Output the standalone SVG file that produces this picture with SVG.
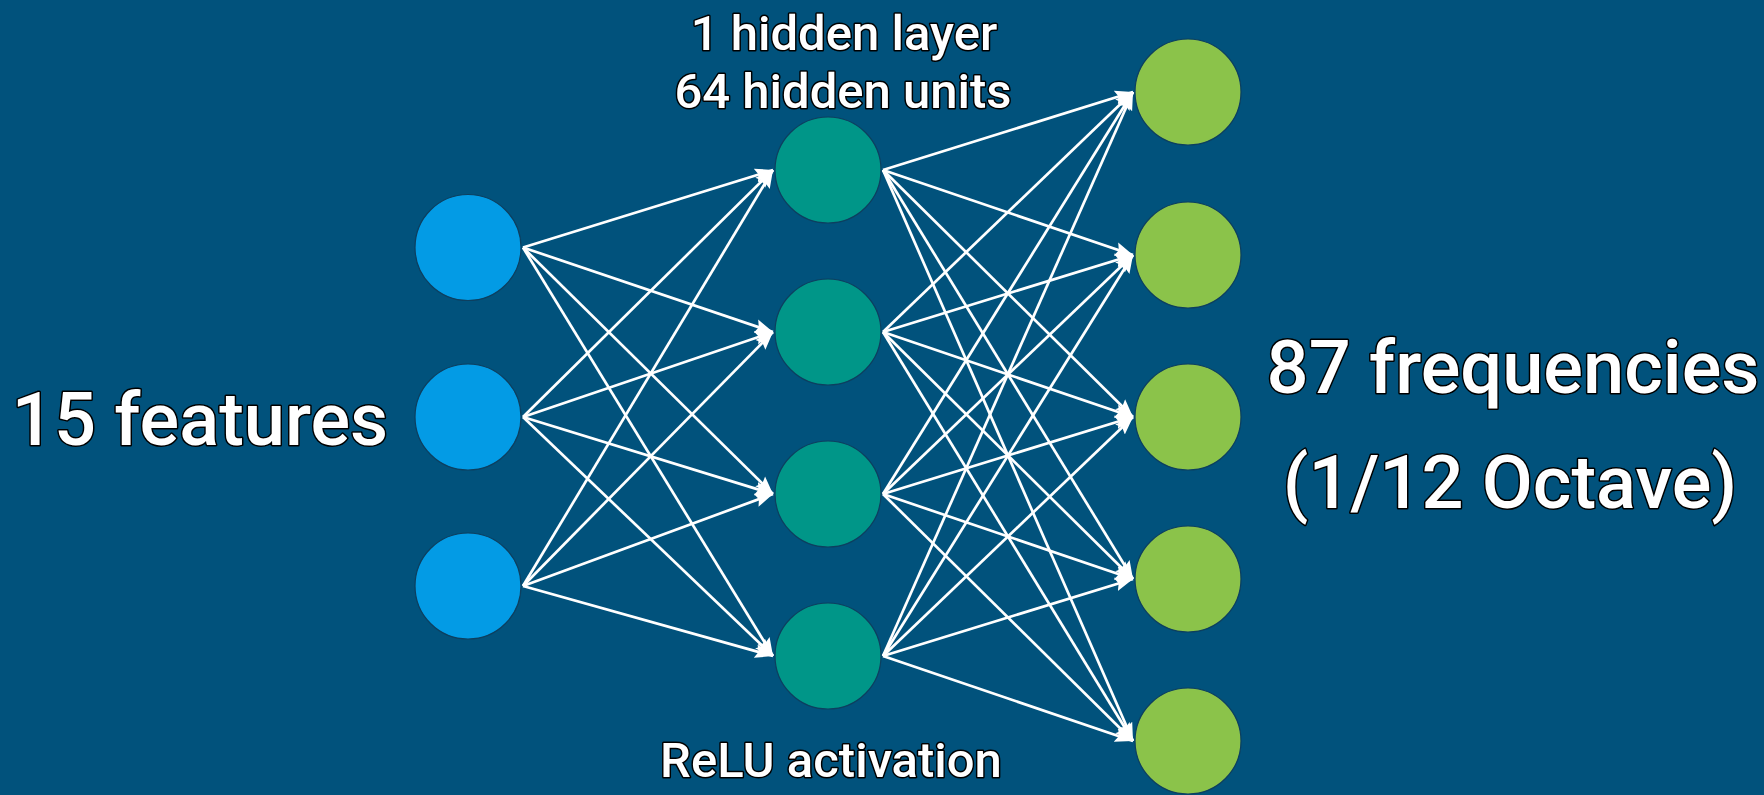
<svg xmlns="http://www.w3.org/2000/svg" width="1764" height="795" viewBox="0 0 1764 795">
<style>
.bg{fill:#01527c}
.in{fill:#039be5;stroke:#0d3f5f;stroke-width:1.2}
.hid{fill:#009688;stroke:#0d3f5f;stroke-width:1.2}
.out{fill:#8bc34a;stroke:#0d3f5f;stroke-width:1.2}
.edge{stroke:#ffffff;stroke-width:2.7;fill:none;marker-end:url(#arr)}
.lbl{font-family:Roboto,"Liberation Sans",sans-serif;font-weight:500;fill:#ffffff;stroke:#000000;stroke-width:3;paint-order:stroke;stroke-linejoin:round;text-anchor:middle}
.big{font-size:74px}
.mid{font-size:49px}
</style>
<defs>
<marker id="arr" markerUnits="userSpaceOnUse" markerWidth="20" markerHeight="16" viewBox="0 0 20 16" refX="18" refY="8" orient="auto">
<path d="M0,1 L18,8 L0,15 L3,8 Z" fill="#ffffff"/>
</marker>
</defs>
<rect class="bg" x="0" y="0" width="1764" height="795"/>
<g id="connectors">
<line class="edge" x1="523" y1="247.5" x2="773" y2="170"/>
<line class="edge" x1="523" y1="247.5" x2="773" y2="332"/>
<line class="edge" x1="523" y1="247.5" x2="773" y2="494"/>
<line class="edge" x1="523" y1="247.5" x2="773" y2="656"/>
<line class="edge" x1="523" y1="417" x2="773" y2="170"/>
<line class="edge" x1="523" y1="417" x2="773" y2="332"/>
<line class="edge" x1="523" y1="417" x2="773" y2="494"/>
<line class="edge" x1="523" y1="417" x2="773" y2="656"/>
<line class="edge" x1="523" y1="586" x2="773" y2="170"/>
<line class="edge" x1="523" y1="586" x2="773" y2="332"/>
<line class="edge" x1="523" y1="586" x2="773" y2="494"/>
<line class="edge" x1="523" y1="586" x2="773" y2="656"/>
<line class="edge" x1="883" y1="170" x2="1133" y2="92"/>
<line class="edge" x1="883" y1="170" x2="1133" y2="255"/>
<line class="edge" x1="883" y1="170" x2="1133" y2="417"/>
<line class="edge" x1="883" y1="170" x2="1133" y2="579"/>
<line class="edge" x1="883" y1="170" x2="1133" y2="741"/>
<line class="edge" x1="883" y1="332" x2="1133" y2="92"/>
<line class="edge" x1="883" y1="332" x2="1133" y2="255"/>
<line class="edge" x1="883" y1="332" x2="1133" y2="417"/>
<line class="edge" x1="883" y1="332" x2="1133" y2="579"/>
<line class="edge" x1="883" y1="332" x2="1133" y2="741"/>
<line class="edge" x1="883" y1="494" x2="1133" y2="92"/>
<line class="edge" x1="883" y1="494" x2="1133" y2="255"/>
<line class="edge" x1="883" y1="494" x2="1133" y2="417"/>
<line class="edge" x1="883" y1="494" x2="1133" y2="579"/>
<line class="edge" x1="883" y1="494" x2="1133" y2="741"/>
<line class="edge" x1="883" y1="656" x2="1133" y2="92"/>
<line class="edge" x1="883" y1="656" x2="1133" y2="255"/>
<line class="edge" x1="883" y1="656" x2="1133" y2="417"/>
<line class="edge" x1="883" y1="656" x2="1133" y2="579"/>
<line class="edge" x1="883" y1="656" x2="1133" y2="741"/>
</g>
<g id="in1"><circle class="in" cx="468" cy="247.5" r="53"/></g>
<g id="in2"><circle class="in" cx="468" cy="417" r="53"/></g>
<g id="in3"><circle class="in" cx="468" cy="586" r="53"/></g>
<g id="h1"><circle class="hid" cx="828" cy="170" r="53"/></g>
<g id="h2"><circle class="hid" cx="828" cy="332" r="53"/></g>
<g id="h3"><circle class="hid" cx="828" cy="494" r="53"/></g>
<g id="h4"><circle class="hid" cx="828" cy="656" r="53"/></g>
<g id="o1"><circle class="out" cx="1188" cy="92" r="53"/></g>
<g id="o2"><circle class="out" cx="1188" cy="255" r="53"/></g>
<g id="o3"><circle class="out" cx="1188" cy="417" r="53"/></g>
<g id="o4"><circle class="out" cx="1188" cy="579" r="53"/></g>
<g id="o5"><circle class="out" cx="1188" cy="741" r="53"/></g>
<g id="labels">
<text class="lbl big" x="200" y="445">15 features</text>
<text class="lbl big" x="1513" y="393">87 frequencies</text>
<text class="lbl big" x="1510" y="508">(1/12 Octave)</text>
<text class="lbl mid" x="844" y="50">1 hidden layer</text>
<text class="lbl mid" x="843" y="108">64 hidden units</text>
<text class="lbl mid" x="831" y="777">ReLU activation</text>
</g>
</svg>
